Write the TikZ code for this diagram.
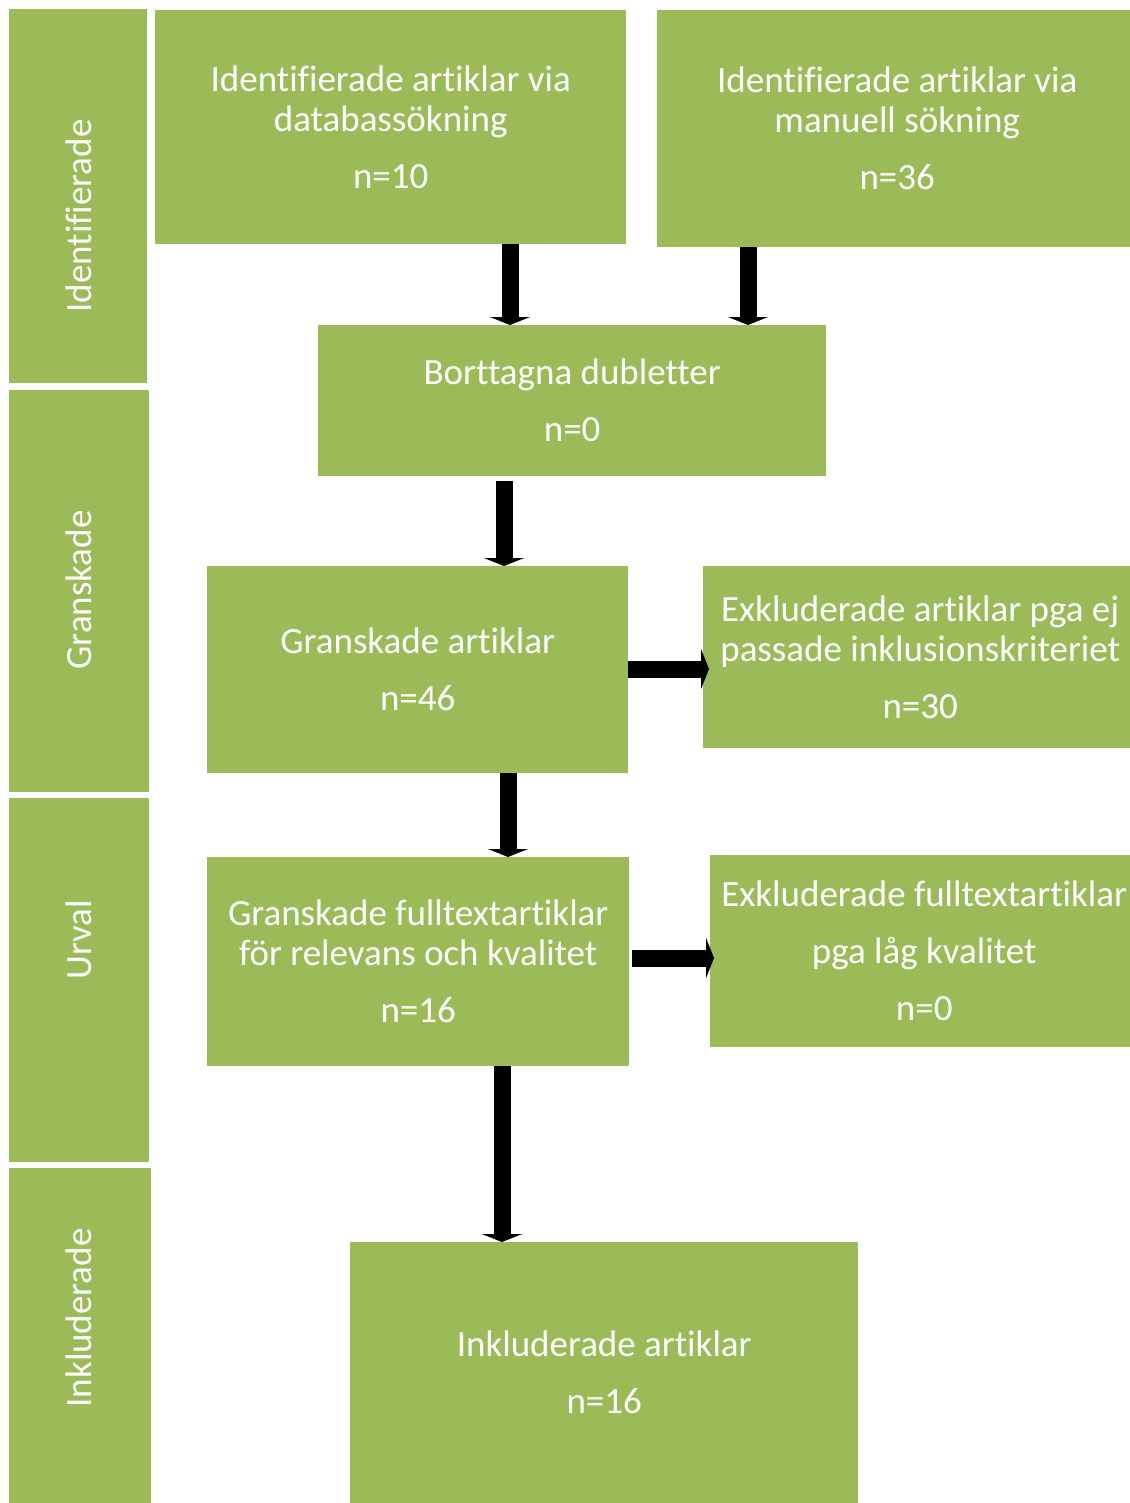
\documentclass[tikz,border=0pt]{standalone}
\usepackage{fontspec}
\setmainfont{Carlito}[RawFeature=-liga]
\usetikzlibrary{arrows.meta}
\definecolor{boxgreen}{HTML}{9BBB59}
\begin{document}
\begin{tikzpicture}[x=1pt,y=-1pt,
  greenbox/.style={fill=boxgreen, draw=none, inner sep=0pt, anchor=north west,
    align=center, text=white, font=\fontsize{37}{40}\selectfont},
  sidelabel/.style={text=white, rotate=90, inner sep=0pt,
    font=\fontsize{37}{40}\selectfont},
  flowarrow/.style={draw=black, line width=17pt, -{Triangle[width=40pt,length=8pt]}}]
\useasboundingbox (0,0) rectangle (1129,1503);

% phase bars on the left
\node[greenbox, minimum width=138pt, minimum height=374pt] (barI) at (9,9) {};
\node[greenbox, minimum width=140pt, minimum height=402pt] (barG) at (9,390) {};
\node[greenbox, minimum width=140pt, minimum height=364pt] (barU) at (9,798) {};
\node[greenbox, minimum width=142pt, minimum height=340pt] (barK) at (9,1168) {};
\node[sidelabel] (labI) at (79,216) {Identifierade};
\node[sidelabel] (labG) at (79,590) {Granskade};
\node[sidelabel] (labU) at (79,940) {Urval};
\node[sidelabel] (labK) at (79,1318) {Inkluderade};

% flow boxes
\node[greenbox, minimum width=471pt, minimum height=234pt] (A) at (155,10)
  {Identifierade artiklar via\\ databassökning\\[17pt] n=10};
\node[greenbox, minimum width=480pt, minimum height=237pt] (B) at (657,10)
  {Identifierade artiklar via\\ manuell sökning\\[17pt] n=36};
\node[greenbox, minimum width=508pt, minimum height=151pt] (C) at (318,325)
  {Borttagna dubletter\\[17pt] n=0};
\node[greenbox, minimum width=421pt, minimum height=207pt] (D) at (207,566)
  {Granskade artiklar\\[17pt] n=46};
\node[greenbox, minimum width=434pt, minimum height=182pt] (E) at (703,566)
  {Exkluderade artiklar pga ej\\ passade inklusionskriteriet\\[17pt] n=30};
\node[greenbox, minimum width=422pt, minimum height=209pt] (F) at (207,857)
  {Granskade fulltextartiklar\\ för relevans och kvalitet\\[17pt] n=16};
\node[greenbox, minimum width=428pt, minimum height=192pt] (G) at (710,855)
  {Exkluderade fulltextartiklar\\[17pt] pga låg kvalitet\\[17pt] n=0};
\node[greenbox, minimum width=508pt, minimum height=261pt] (H) at (350,1242)
  {Inkluderade artiklar\\[17pt] n=16};

% connectors
\draw[flowarrow] (A.south -| 510,0) -- (C.north -| 510,0);
\draw[flowarrow] (B.south -| 748,0) -- (C.north -| 748,0);
\draw[flowarrow] (504,481) -- (D.north -| 504,0);
\draw[flowarrow] (D.east |- 0,669) -- ([xshift=6pt]E.west |- 0,669);
\draw[flowarrow] (D.south -| 508,0) -- (F.north -| 508,0);
\draw[flowarrow] ([xshift=3pt]F.east |- 0,958) -- ([xshift=4pt]G.west |- 0,958);
\draw[flowarrow] (F.south -| 502,0) -- (H.north -| 502,0);
\end{tikzpicture}
\end{document}
